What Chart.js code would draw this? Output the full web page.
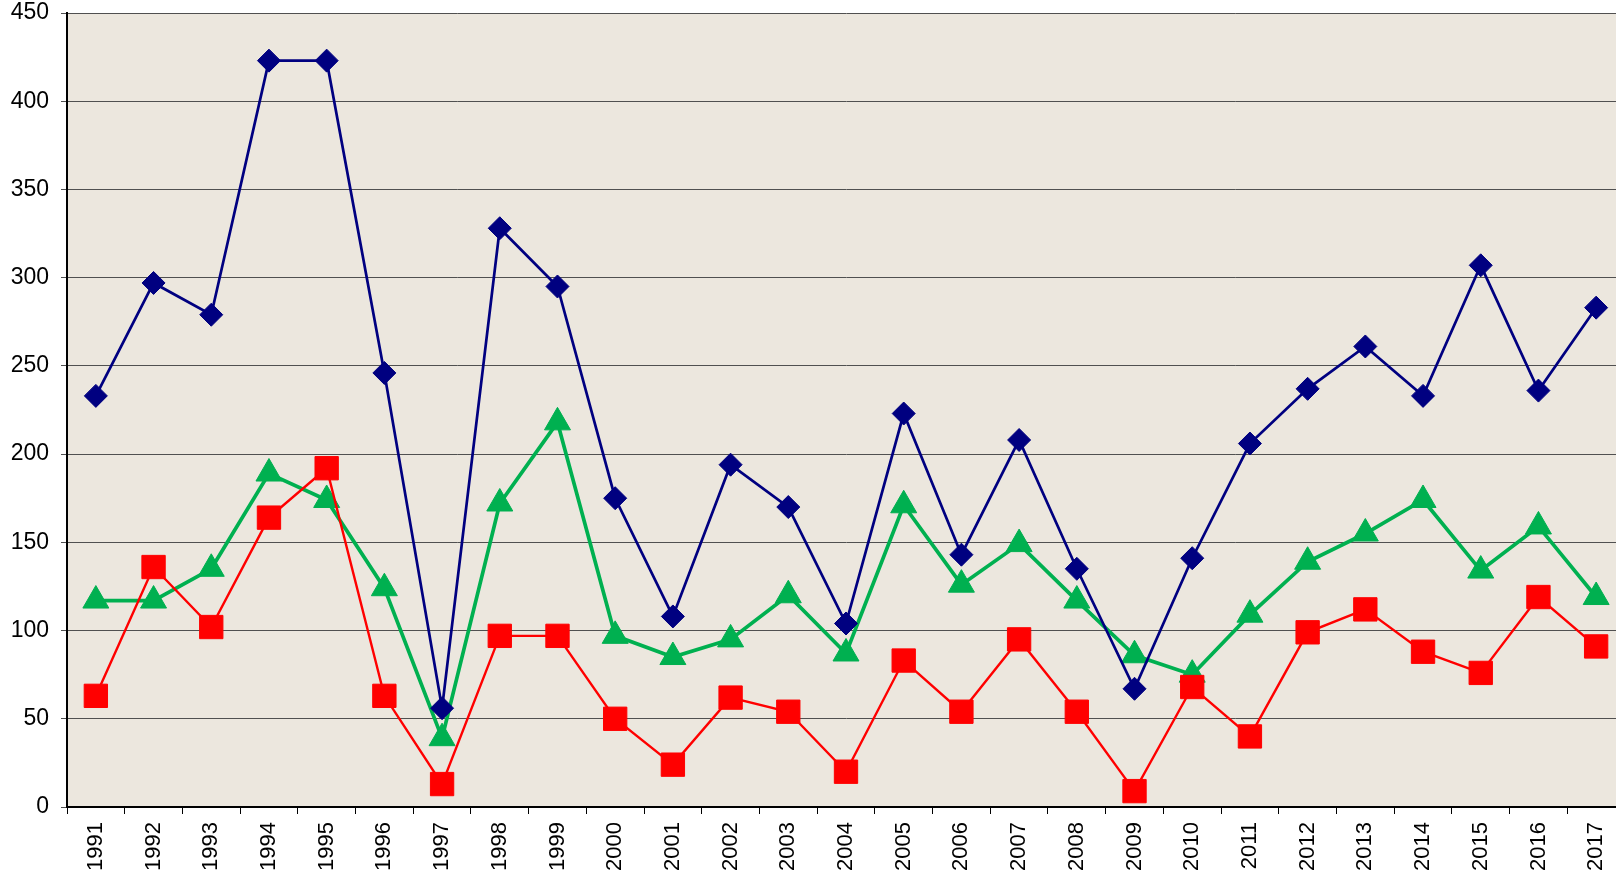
<!DOCTYPE html>
<html>
<head>
<meta charset="utf-8">
<script src="https://cdn.jsdelivr.net/npm/chart.js@4/dist/chart.umd.min.js"></script>
<style>
  html, body { margin: 0; padding: 0; background: #fff; overflow: hidden; }
  #wrap { width: 1625px; height: 872px; }
</style>
</head>
<body>
<div id="wrap"><canvas id="chart"></canvas></div>
<script>
const years = ["1991","1992","1993","1994","1995","1996","1997","1998","1999","2000",
  "2001","2002","2003","2004","2005","2006","2007","2008","2009","2010",
  "2011","2012","2013","2014","2015","2016","2017"];

const blueSeries = [233, 297, 279, 423, 423, 246, 56, 328, 295, 175,
  108, 194, 170, 104, 223, 143, 208, 135, 67, 141,
  206, 237, 261, 233, 307, 236, 283];

const redSeries = [63, 136, 102, 164, 192, 63, 13, 97, 97, 50,
  24, 62, 54, 20, 83, 54, 95, 54, 9, 68,
  40, 99, 112, 88, 76, 119, 91];

const greenSeries = [117, 117, 135, 189, 174, 124, 39, 172, 218, 97,
  85, 95, 120, 87, 171, 126, 149, 117, 86, 75,
  109, 139, 155, 174, 134, 159, 119];

const yMin = 0, yMax = 450, yStep = 50;

const FONT = "'Liberation Sans', Arial, sans-serif";

// paper-ish background behind the plot area
const plotBg = {
  id: "plotBg",
  beforeDraw(chart) {
    const { ctx, chartArea: a } = chart;
    ctx.save();
    ctx.fillStyle = "#ece7de";
    ctx.fillRect(a.left, a.top, a.right - a.left, a.bottom - a.top);
    ctx.restore();
  }
};

const ctx = document.getElementById("chart").getContext("2d");
new Chart(ctx, {
  type: "line",
  data: {
    labels: years,
    datasets: [
      {
        label: "A",
        data: blueSeries,
        borderColor: "#000080",
        backgroundColor: "#000080",
        borderWidth: 2.7,
        pointStyle: "rectRot",
        pointRadius: 11.5,
        pointBorderWidth: 1,
        tension: 0,
        clip: false,
        order: 1
      },
      {
        label: "B",
        data: redSeries,
        borderColor: "#ff0000",
        backgroundColor: "#ff0000",
        borderWidth: 2.4,
        pointStyle: "rect",
        pointRadius: 16.5,
        pointBorderWidth: 1,
        tension: 0,
        clip: false,
        order: 2
      },
      {
        label: "C",
        data: greenSeries,
        borderColor: "#00b050",
        backgroundColor: "#00b050",
        borderWidth: 3.7,
        pointStyle: "triangle",
        pointRadius: 15,
        pointBorderWidth: 1,
        tension: 0,
        clip: false,
        order: 3
      }
    ]
  },
  options: {
    responsive: true,
    maintainAspectRatio: false,
    animation: false,
    events: [],
    layout: { autoPadding: false, padding: { top: 13, right: 0, left: 0, bottom: 0 } },
    plugins: {
      legend: { display: false },
      tooltip: { enabled: false }
    },
    scales: {
      x: {
        type: "category",
        offset: true,
        grid: {
          offset: true,
          drawOnChartArea: false,
          drawTicks: true,
          tickLength: 7,
          color: "#000",
          lineWidth: 1
        },
        border: { color: "#000", width: 2 },
        ticks: {
          color: "#000",
          font: { family: FONT, size: 22 },
          minRotation: 90,
          maxRotation: 90,
          autoSkip: false,
          padding: 8
        },
        afterFit(scale) {
          scale.height = 65;
          scale.paddingLeft = 0;
          scale.paddingRight = 0;
        }
      },
      y: {
        min: yMin,
        max: yMax,
        grid: {
          color: "#505050",
          lineWidth: 1,
          tickLength: 6,
          drawTicks: true
        },
        border: { color: "#000", width: 2 },
        ticks: {
          stepSize: yStep,
          color: "#000",
          font: { family: FONT, size: 23 },
          padding: 12
        },
        afterFit(scale) {
          scale.width = 67;
          scale.paddingTop = 0;
          scale.paddingBottom = 0;
        }
      }
    }
  },
  plugins: [plotBg]
});
</script>
</body>
</html>
